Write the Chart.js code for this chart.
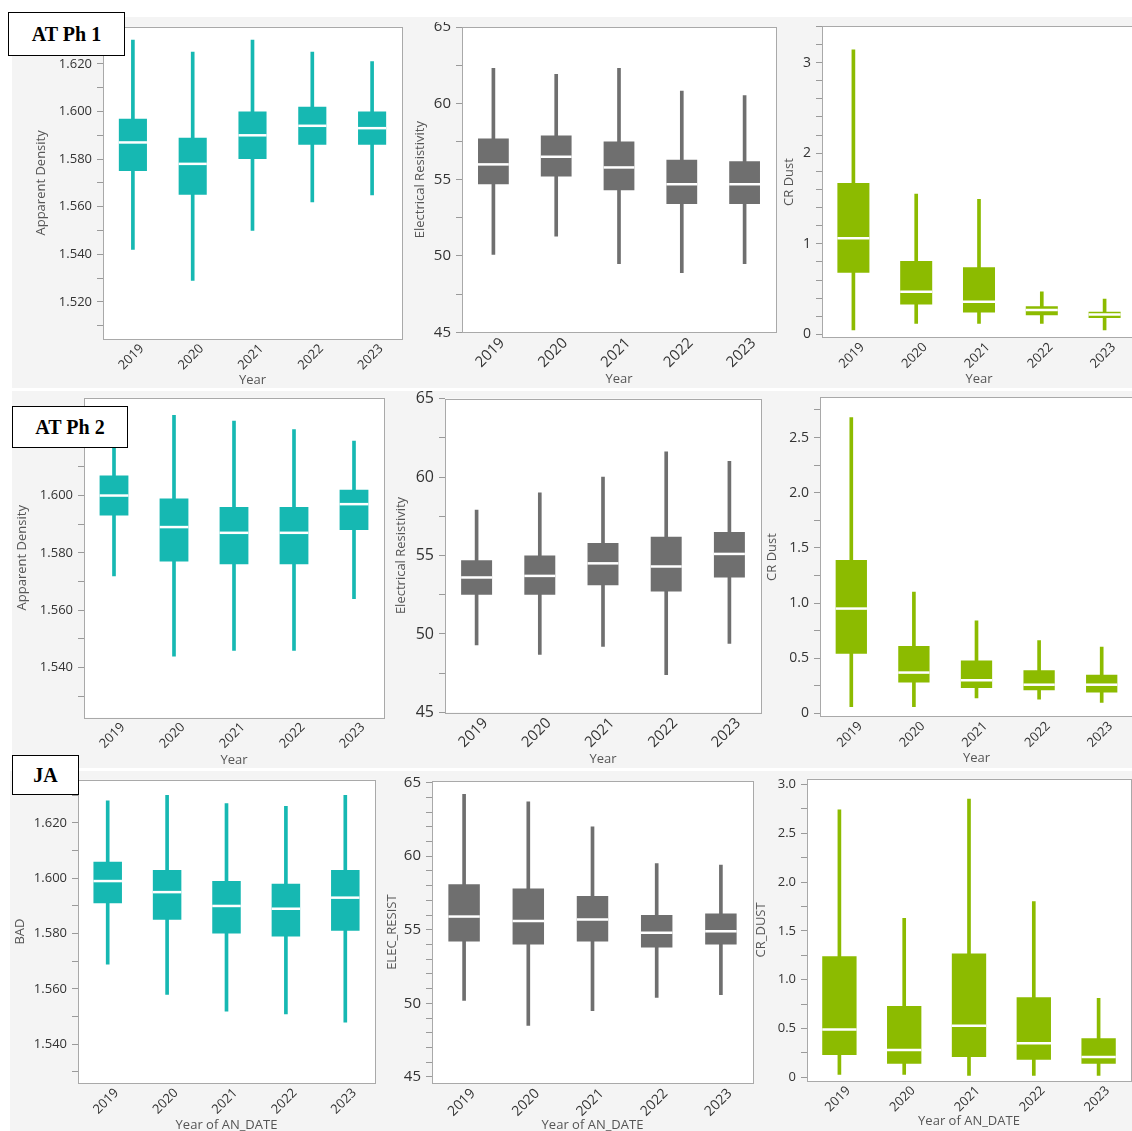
<!DOCTYPE html>
<html><head><meta charset="utf-8">
<script src="https://cdn.jsdelivr.net/npm/chart.js@4.4.1/dist/chart.umd.min.js"></script>
<style>
html,body{margin:0;padding:0;width:1132px;height:1131px;overflow:hidden;background:#fff;position:relative;}
.bg{position:absolute;background:#f4f4f4;}
canvas{position:absolute;}
.tag{position:absolute;background:#fff;border:1.5px solid #000;font-family:"Liberation Serif","Times New Roman",serif;font-weight:bold;font-size:20px;display:flex;align-items:center;justify-content:center;box-sizing:border-box;z-index:5;color:#000;}
.cover{position:absolute;z-index:4;}
</style></head><body>
<div class="bg" style="left:12px;top:17px;width:1120px;height:371px"></div>
<div class="bg" style="left:12px;top:391px;width:1120px;height:377px"></div>
<div class="bg" style="left:10px;top:771px;width:1122px;height:360px"></div>
<div id="charts"></div>
<div class="cover" style="left:422px;top:17px;width:36px;height:5px;background:#f4f4f4"></div>
<div class="tag" style="left:8px;top:12px;width:117px;height:44px">AT Ph 1</div>
<div class="tag" style="left:12px;top:406px;width:116px;height:42px">AT Ph 2</div>
<div class="tag" style="left:12px;top:755px;width:67px;height:40px">JA</div>
<script>
const years = ['2019','2020','2021','2022','2023'];

// AT Ph 1 - Apparent Density
const ph1DensityMin = [1.542, 1.529, 1.550, 1.562, 1.565];
const ph1DensityQ1  = [1.575, 1.565, 1.580, 1.586, 1.586];
const ph1DensityMed = [1.587, 1.578, 1.590, 1.594, 1.593];
const ph1DensityQ3  = [1.597, 1.589, 1.600, 1.602, 1.600];
const ph1DensityMax = [1.630, 1.625, 1.630, 1.625, 1.621];
// AT Ph 1 - Electrical Resistivity
const ph1ResistMin = [50.1, 51.3, 49.5, 48.9, 49.5];
const ph1ResistQ1  = [54.7, 55.2, 54.3, 53.4, 53.4];
const ph1ResistMed = [56.0, 56.5, 55.8, 54.7, 54.7];
const ph1ResistQ3  = [57.7, 57.9, 57.5, 56.3, 56.2];
const ph1ResistMax = [62.3, 61.9, 62.3, 60.8, 60.5];
// AT Ph 1 - CR Dust
const ph1DustMin = [0.05, 0.12, 0.12, 0.12, 0.05];
const ph1DustQ1  = [0.68, 0.33, 0.24, 0.21, 0.18];
const ph1DustMed = [1.06, 0.47, 0.36, 0.27, 0.22];
const ph1DustQ3  = [1.67, 0.81, 0.74, 0.31, 0.25];
const ph1DustMax = [3.14, 1.55, 1.49, 0.47, 0.39];
// AT Ph 2 - Apparent Density
const ph2DensityMin = [1.572, 1.544, 1.546, 1.546, 1.564];
const ph2DensityQ1  = [1.593, 1.577, 1.576, 1.576, 1.588];
const ph2DensityMed = [1.600, 1.589, 1.587, 1.587, 1.597];
const ph2DensityQ3  = [1.607, 1.599, 1.596, 1.596, 1.602];
const ph2DensityMax = [1.622, 1.628, 1.626, 1.623, 1.619];
// AT Ph 2 - Electrical Resistivity
const ph2ResistMin = [49.3, 48.7, 49.2, 47.4, 49.4];
const ph2ResistQ1  = [52.5, 52.5, 53.1, 52.7, 53.6];
const ph2ResistMed = [53.6, 53.7, 54.5, 54.3, 55.1];
const ph2ResistQ3  = [54.7, 55.0, 55.8, 56.2, 56.5];
const ph2ResistMax = [57.9, 59.0, 60.0, 61.6, 61.0];
// AT Ph 2 - CR Dust
const ph2DustMin = [0.06, 0.06, 0.14, 0.13, 0.10];
const ph2DustQ1  = [0.54, 0.28, 0.23, 0.21, 0.19];
const ph2DustMed = [0.95, 0.37, 0.30, 0.26, 0.26];
const ph2DustQ3  = [1.39, 0.61, 0.48, 0.39, 0.35];
const ph2DustMax = [2.68, 1.10, 0.84, 0.66, 0.60];
// JA - BAD
const jaDensityMin = [1.569, 1.558, 1.552, 1.551, 1.548];
const jaDensityQ1  = [1.591, 1.585, 1.580, 1.579, 1.581];
const jaDensityMed = [1.599, 1.595, 1.590, 1.589, 1.593];
const jaDensityQ3  = [1.606, 1.603, 1.599, 1.598, 1.603];
const jaDensityMax = [1.628, 1.630, 1.627, 1.626, 1.630];
// JA - ELEC_RESIST
const jaResistMin = [50.2, 48.5, 49.5, 50.4, 50.6];
const jaResistQ1  = [54.2, 54.0, 54.2, 53.8, 54.0];
const jaResistMed = [55.9, 55.6, 55.7, 54.8, 54.9];
const jaResistQ3  = [58.1, 57.8, 57.3, 56.0, 56.1];
const jaResistMax = [64.2, 63.7, 62.0, 59.5, 59.4];
// JA - CR_DUST
const jaDustMin = [0.03, 0.03, 0.02, 0.02, 0.02];
const jaDustQ1  = [0.23, 0.14, 0.21, 0.18, 0.14];
const jaDustMed = [0.49, 0.28, 0.53, 0.35, 0.21];
const jaDustQ3  = [1.24, 0.73, 1.27, 0.82, 0.40];
const jaDustMax = [2.74, 1.63, 2.85, 1.80, 0.81];

// tick labels
const densityTicksPh1 = ['1.520','1.540','1.560','1.580','1.600','1.620'];
const densityTicksPh2 = ['1.540','1.560','1.580','1.600','1.620'];
const densityTicksJA  = ['1.540','1.560','1.580','1.600','1.620'];
const resistTicks     = ['45','50','55','60','65'];
const dustTicksPh1    = ['0','1','2','3'];
const dustTicksPh2    = ['0','0.5','1.0','1.5','2.0','2.5'];
const dustTicksJA     = ['0','0.5','1.0','1.5','2.0','2.5','3.0'];

const TEAL = '#16b8b2', GREY = '#6f6f6f', GREEN = '#8cbb00';
const FONT = "'Open Sans','Noto Sans','DejaVu Sans',sans-serif";

const panels = [
 {L:103, T:26, R:402, B:339, min:1.5044, max:1.6356, step:0.01, color:TEAL, yTitle:'Apparent Density', yTitleX:41.7, xTitle:'Year', xTitleY:380, yFont:13, xFont:13,
  s:[ph1DensityMin, ph1DensityQ1, ph1DensityMed, ph1DensityQ3, ph1DensityMax], ticks:densityTicksPh1, boxPct:0.47},
 {L:461.7, T:25, R:775.7, B:332.3, min:45, max:65, step:2.5, color:GREY, yTitle:'Electrical Resistivity', yTitleX:420, xTitle:'Year', xTitleY:379, yFont:15, xFont:15,
  s:[ph1ResistMin, ph1ResistQ1, ph1ResistMed, ph1ResistQ3, ph1ResistMax], ticks:resistTicks, boxPct:0.49},
 {L:822.3, T:25, R:1136, B:337.7, min:-0.037, max:3.40, step:0.2, color:GREEN, yTitle:'CR Dust', yTitleX:789.3, xTitle:'Year', xTitleY:379, yFont:14, xFont:13,
  s:[ph1DustMin, ph1DustQ1, ph1DustMed, ph1DustQ3, ph1DustMax], ticks:dustTicksPh1, boxPct:0.51},
 {L:84, T:397, R:384, B:717.7, min:1.5225, max:1.6341, step:0.01, color:TEAL, yTitle:'Apparent Density', yTitleX:22.7, xTitle:'Year', xTitleY:760, yFont:13, xFont:13,
  s:[ph2DensityMin, ph2DensityQ1, ph2DensityMed, ph2DensityQ3, ph2DensityMax], ticks:densityTicksPh2, boxPct:0.48},
 {L:445.3, T:395.7, R:761.7, B:711.7, min:45, max:65, step:2.5, color:GREY, yTitle:'Electrical Resistivity', yTitleX:401.7, xTitle:'Year', xTitleY:758.3, yFont:16, xFont:15,
  s:[ph2ResistMin, ph2ResistQ1, ph2ResistMed, ph2ResistQ3, ph2ResistMax], ticks:resistTicks, boxPct:0.49},
 {L:820, T:395.7, R:1133, B:716.7, min:-0.030, max:2.864, step:0.25, color:GREEN, yTitle:'CR Dust', yTitleX:772.7, xTitle:'Year', xTitleY:758, yFont:14, xFont:13,
  s:[ph2DustMin, ph2DustQ1, ph2DustMed, ph2DustQ3, ph2DustMax], ticks:dustTicksPh2, boxPct:0.5},
 {L:78.3, T:779.3, R:375.7, B:1083.3, min:1.5259, max:1.6356, step:0.01, color:TEAL, yTitle:'BAD', yTitleX:20.7, xTitle:'Year of AN_DATE', xTitleY:1125, yFont:13, xFont:13,
  s:[jaDensityMin, jaDensityQ1, jaDensityMed, jaDensityQ3, jaDensityMax], ticks:densityTicksJA, boxPct:0.48},
 {L:431.7, T:779, R:752.3, B:1083.3, min:44.57, max:65.11, step:1, color:GREY, yTitle:'ELEC_RESIST', yTitleX:391.7, xTitle:'Year of AN_DATE', xTitleY:1125, yFont:15, xFont:14,
  s:[jaResistMin, jaResistQ1, jaResistMed, jaResistQ3, jaResistMax], ticks:resistTicks, boxPct:0.49},
 {L:807.3, T:778.3, R:1131, B:1081.7, min:-0.037, max:3.058, step:0.25, color:GREEN, yTitle:'CR_DUST', yTitleX:762, xTitle:'Year of AN_DATE', xTitleY:1121.7, yFont:13, xFont:13,
  s:[jaDustMin, jaDustQ1, jaDustMed, jaDustQ3, jaDustMax], ticks:dustTicksJA, boxPct:0.53}
];

const boxPlugin = {
  id: 'boxExtras',
  beforeDraw(chart) {
    const a = chart.chartArea, c = chart.ctx;
    c.save(); c.fillStyle = '#ffffff';
    c.fillRect(a.left, a.top, a.right - a.left, a.bottom - a.top);
    c.restore();
  },
  beforeDatasetsDraw(chart) {
    const a = chart.chartArea, c = chart.ctx;
    c.save(); c.strokeStyle = '#a9a9a9'; c.lineWidth = 1;
    c.strokeRect(Math.round(a.left) + 0.5, Math.round(a.top) + 0.5, Math.round(a.right - a.left), Math.round(a.bottom - a.top));
    c.restore();
  },
  afterDatasetsDraw(chart, args, opts) {
    const meta = chart.getDatasetMeta(0), y = chart.scales.y, c = chart.ctx;
    c.save(); c.strokeStyle = '#ffffff'; c.lineWidth = 2.5;
    meta.data.forEach((el, i) => {
      const py = y.getPixelForValue(opts.medians[i]);
      c.beginPath(); c.moveTo(el.x - el.width / 2, py); c.lineTo(el.x + el.width / 2, py); c.stroke();
    });
    c.restore();
  }
};

const host = document.getElementById('charts');
panels.forEach(p => {
  const yW = 70, padT = 12, padR = 16;
  const xH = p.xTitleY + 9 - p.B;
  const w = Math.round(yW + (p.R - p.L) + padR);
  const h = Math.round(padT + (p.B - p.T) + xH);
  const cv = document.createElement('canvas');
  cv.width = w; cv.height = h;
  cv.style.left = (p.L - yW) + 'px'; cv.style.top = (p.T - padT) + 'px';
  cv.style.width = w + 'px'; cv.style.height = h + 'px';
  host.appendChild(cv);
  const tLH = 13 * 1.2;
  const yTitlePad = (p.yTitleX - (p.L - yW)) - tLH / 2;
  const xTitlePad = Math.max(0, 9 - tLH / 2);
  const tickVals = p.ticks.map(Number);
  const [mn, q1, md, q3, mx] = p.s;
  new Chart(cv, {
    type: 'bar',
    data: {
      labels: years,
      datasets: [
        {data: years.map((_, i) => [q1[i], q3[i]]), backgroundColor: p.color, borderWidth: 0, borderSkipped: false,
         grouped: false, barPercentage: p.boxPct, categoryPercentage: 1},
        {data: years.map((_, i) => [mn[i], mx[i]]), backgroundColor: p.color, borderWidth: 0, borderSkipped: false,
         grouped: false, barThickness: 3}
      ]
    },
    options: {
      responsive: false, animation: false, devicePixelRatio: 1,
      layout: {padding: {top: padT, right: padR, left: 0, bottom: 0}},
      plugins: {legend: {display: false}, tooltip: {enabled: false}, boxExtras: {medians: md}},
      scales: {
        x: {
          type: 'category', offset: true,
          grid: {display: false, drawTicks: false}, border: {display: false},
          ticks: {font: {family: FONT, size: p.xFont}, color: '#333', minRotation: 45, maxRotation: 45, padding: 2, labelOffset: 9, autoSkip: false},
          title: {display: true, text: p.xTitle, font: {family: FONT, size: 13}, color: '#555', padding: {top: 0, bottom: xTitlePad}},
          afterFit(s) { s.height = xH; }
        },
        y: {
          min: p.min, max: p.max,
          grid: {drawOnChartArea: false, drawTicks: true, tickLength: 6, color: '#9a9a9a'}, border: {display: false},
          ticks: {stepSize: p.step, autoSkip: false, includeBounds: false, padding: 5, color: '#333',
                  font: {family: FONT, size: p.yFont},
                  callback: v => { const i = tickVals.findIndex(t => Math.abs(t - v) < p.step / 10); return i >= 0 ? p.ticks[i] : ''; }},
          title: {display: true, text: p.yTitle, font: {family: FONT, size: 13}, color: '#555', padding: {top: yTitlePad, bottom: 0}},
          afterFit(s) { s.width = yW; }
        }
      }
    },
    plugins: [boxPlugin]
  });
});
</script>
</body></html>
